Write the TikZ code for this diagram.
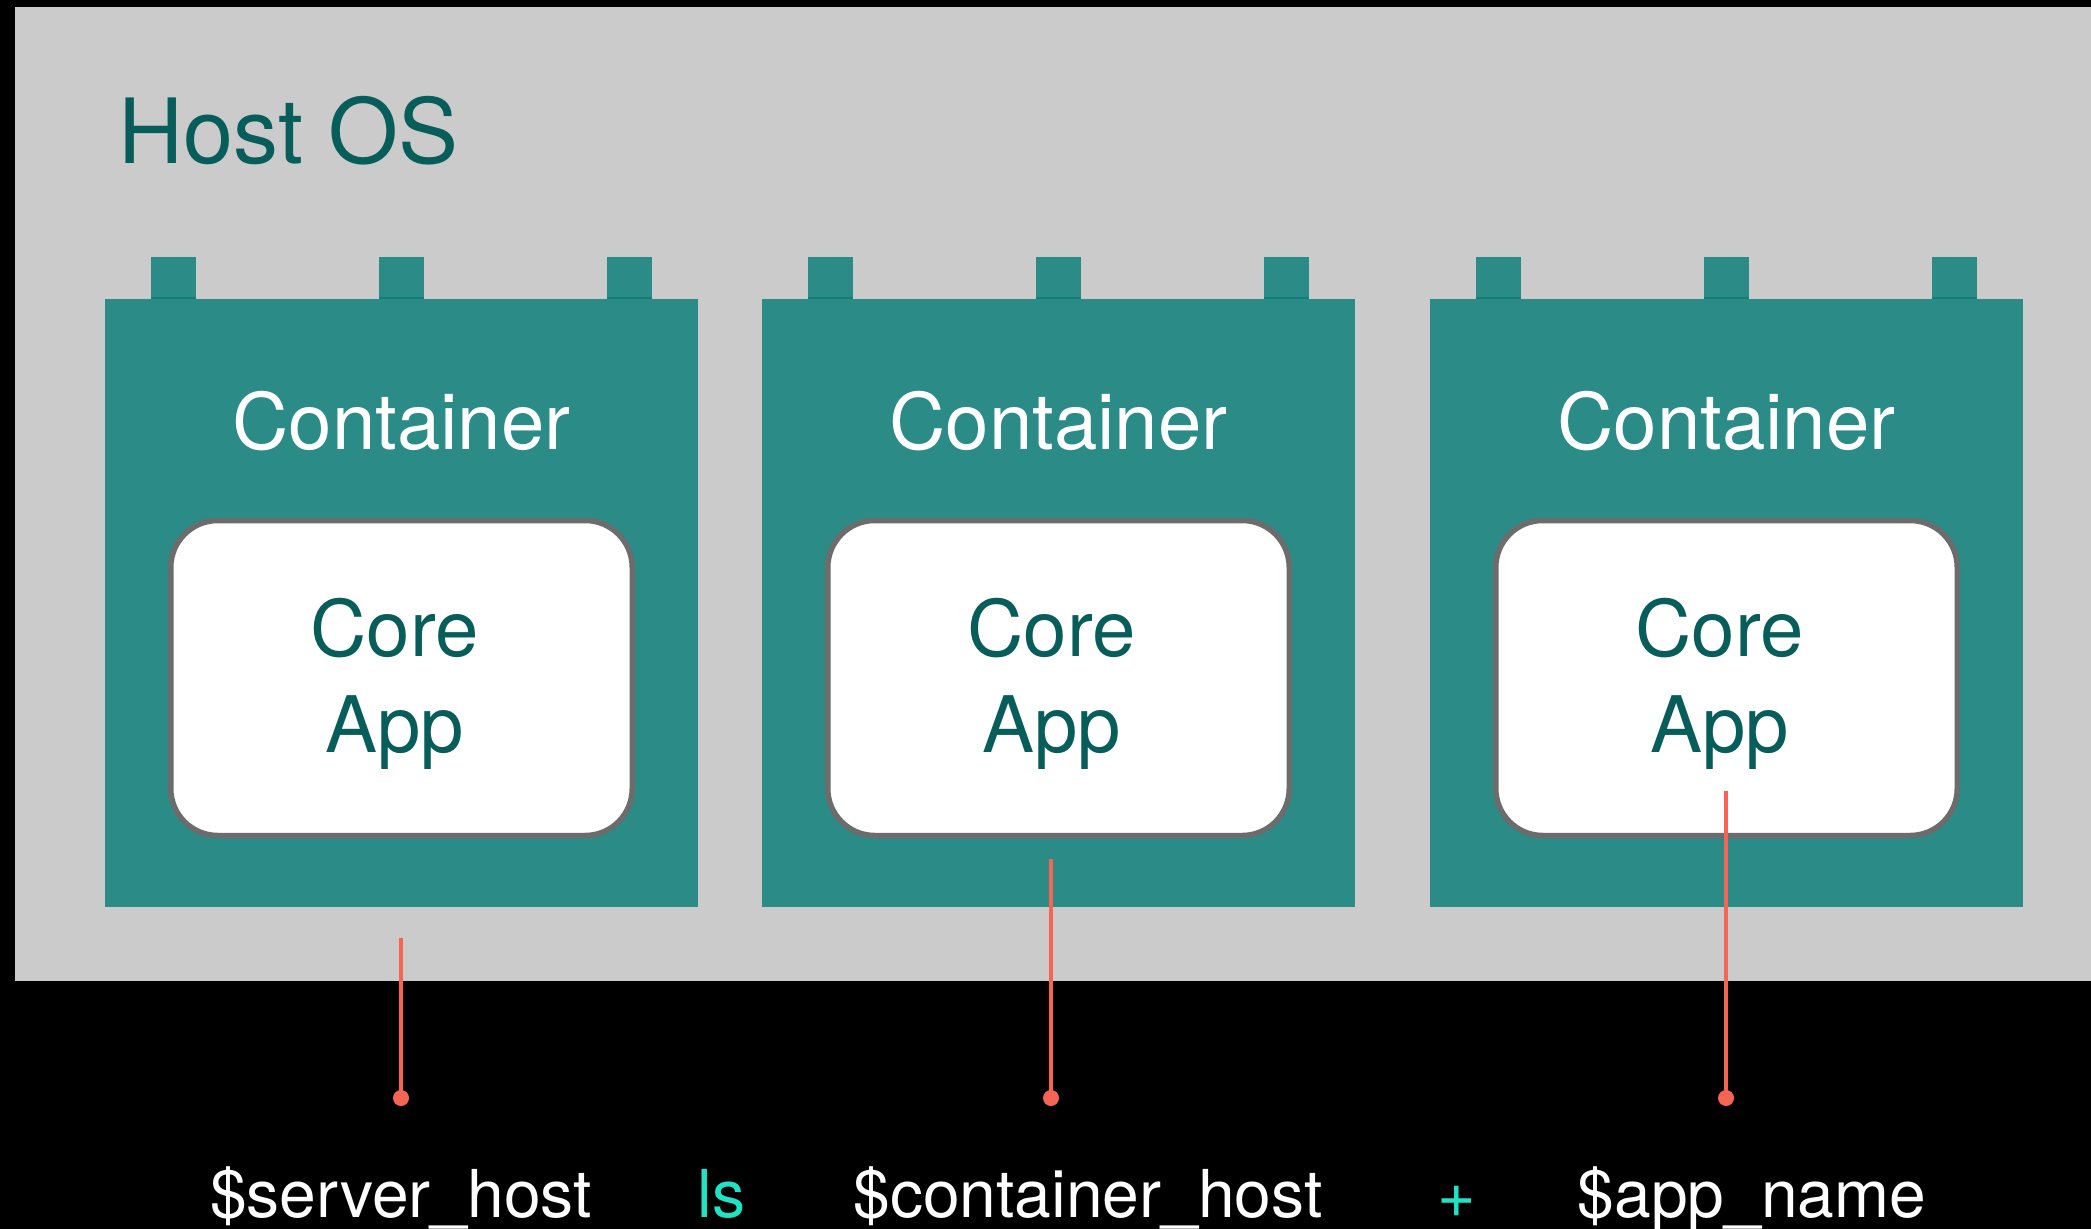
\documentclass[tikz,border=0pt]{standalone}
\usepackage{fontspec}
\setmainfont{TeX Gyre Heros}
\definecolor{hostgray}{HTML}{CBCBCB}
\definecolor{contteal}{HTML}{2A8B87}
\definecolor{tabedge}{HTML}{147D77}
\definecolor{darkteal}{HTML}{075D59}
\definecolor{boxgray}{HTML}{6C6C6C}
\definecolor{wirered}{HTML}{F66553}
\definecolor{opcyan}{HTML}{1EE3C4}
\begin{document}
\begin{tikzpicture}[x=0.5pt,y=-0.5pt,
  hostbox/.style={fill=hostgray, anchor=north west, minimum width=1038pt, minimum height=487pt, inner sep=0pt, outer sep=0pt},
  contbox/.style={fill=contteal, anchor=north west, minimum width=296.5pt, minimum height=304pt, inner sep=0pt, outer sep=0pt},
  tabbox/.style={fill=contteal},
  appbox/.style={draw=boxgray, line width=2.75pt, fill=white, rounded corners=23.5pt, minimum width=230.75pt, minimum height=157.5pt, inner sep=0pt},
  hosttitle/.style={text=darkteal, font=\fontsize{45pt}{54pt}\selectfont, anchor=base west, inner sep=0pt},
  ctitle/.style={text=white, font=\fontsize{39pt}{47pt}\selectfont, anchor=base, inner sep=0pt},
  applabel/.style={text=darkteal, font=\fontsize{39pt}{47pt}\selectfont, anchor=base, inner sep=0pt},
  wire/.style={draw=wirered, line width=2.35pt},
  pin/.style={circle, fill=wirered, minimum size=8pt, inner sep=0pt},
  varlabel/.style={text=white, font=\fontsize{33pt}{40pt}\selectfont, anchor=base, inner sep=0pt},
  oplabel/.style={text=opcyan, font=\fontsize{33pt}{40pt}\selectfont, anchor=base, inner sep=0pt}]
\fill[black] (0,0) rectangle (2091,1229);
\useasboundingbox (0,0) rectangle (2091,1229);
\node[hostbox] (host) at (15,7) {};
\node[hosttitle] (hostlabel) at (118,164) {Host OS};
\foreach \i/\L in {1/105,2/762,3/1430}{
  \pgfmathsetmacro{\cx}{\L+296.5}
  \pgfmathsetmacro{\tx}{\L+289.5}
  \node[contbox] (c\i) at (\L,299) {};
  \foreach \t in {46,274,502}{
    \fill[tabbox] ({\L+\t},257) rectangle ({\L+\t+45},299);
    \draw[tabedge, line width=1pt] ({\L+\t},298.5) -- ({\L+\t+45},298.5);
  }
  \node[ctitle] (ct\i) at (\cx,450) {Container};
  \node[appbox] (a\i) at (\cx,678) {};
  \node[applabel] (core\i) at (\tx,656.5) {Core};
  \node[applabel] (app\i) at (\tx,752) {App};
}
\coordinate (w1) at (401,938);
\coordinate (w2) at (1051,859);
\coordinate (w3) at (1726,791);
\node[pin] (d1) at (401,1098) {};
\node[pin] (d2) at (1051,1098) {};
\node[pin] (d3) at (1726,1098) {};
\draw[wire] (w1) -- (d1.center);
\draw[wire] (w2) -- (d2.center);
\draw[wire] (w3) -- (d3.center);
\node[varlabel] (v1) at (401,1217) {\$server\_host};
\node[oplabel] (op1) at (721.5,1217) {ls};
\node[varlabel] (v2) at (1088,1217) {\$container\_host};
\node[oplabel] (op2) at (1456.5,1217) {+};
\node[varlabel] (v3) at (1752,1217) {\$app\_name};
\end{tikzpicture}
\end{document}
